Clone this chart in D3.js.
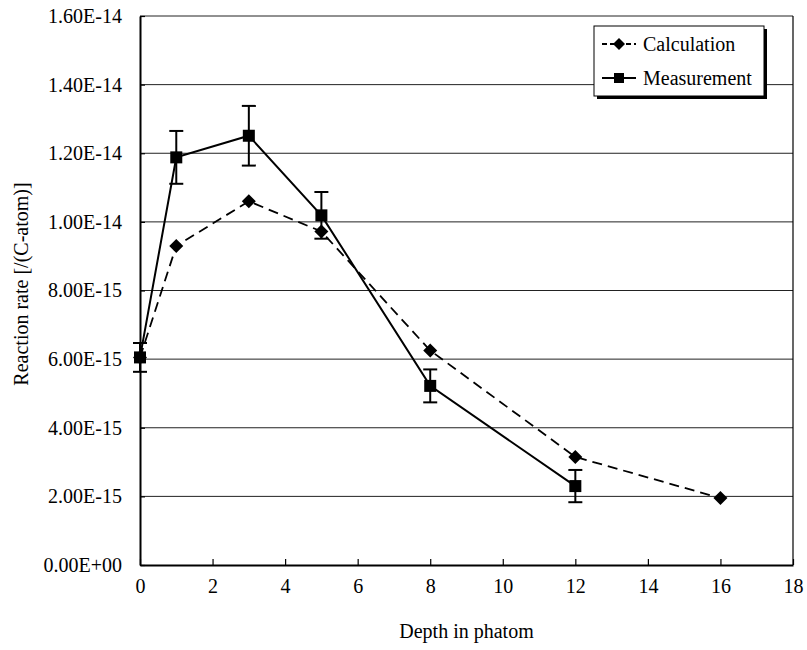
<!DOCTYPE html>
<html>
<head>
<meta charset="utf-8">
<script src="https://cdn.jsdelivr.net/npm/d3@7"></script>
<style>
  body { margin: 0; background: #fff; }
  svg text { font-family: "Liberation Serif", Tinos, "Times New Roman", Times, "DejaVu Serif", serif; fill: #000; }
</style>
</head>
<body>
<div id="chart"></div>
<script>
// Data
var calcDepth = [0, 1, 3, 5, 8, 12, 16];
var calcRate = [6.05e-15, 9.3e-15, 1.06e-14, 9.72e-15, 6.25e-15, 3.15e-15, 1.95e-15];

var measDepth = [0, 1, 3, 5, 8, 12];
var measRate = [6.05e-15, 1.188e-14, 1.251e-14, 1.019e-14, 5.22e-15, 2.3e-15];
var measErr = [0.42e-15, 0.77e-15, 0.87e-15, 0.68e-15, 0.48e-15, 0.47e-15];

var xTicks = [0, 2, 4, 6, 8, 10, 12, 14, 16, 18];
var yTicks = [0, 2e-15, 4e-15, 6e-15, 8e-15, 1e-14, 1.2e-14, 1.4e-14, 1.6e-14];
var yTickLabels = ["0.00E+00", "2.00E-15", "4.00E-15", "6.00E-15", "8.00E-15",
  "1.00E-14", "1.20E-14", "1.40E-14", "1.60E-14"];
var seriesNames = ["Calculation", "Measurement"];

var fontStack = '"Liberation Serif", Tinos, "Times New Roman", Times, "DejaVu Serif", serif';

// SVG area
var svgWidth = 807;
var svgHeight = 650;
var margin = { top: 16, right: 14, bottom: 85, left: 140 };
var chartWidth = svgWidth - margin.left - margin.right;
var chartHeight = svgHeight - margin.top - margin.bottom;

var svg = d3.select("#chart")
  .append("svg")
  .attr("width", svgWidth)
  .attr("height", svgHeight);

var chartGroup = svg.append("g")
  .attr("transform", `translate(${margin.left}, ${margin.top})`);

// Scales
var xScale = d3.scaleLinear().domain([0, 18]).range([0, chartWidth]);
var yScale = d3.scaleLinear().domain([0, 1.6e-14]).range([chartHeight, 0]);

// Gridlines
chartGroup.selectAll(".grid")
  .data(yTicks.slice(1))
  .enter()
  .append("line")
  .attr("x1", 0)
  .attr("x2", chartWidth)
  .attr("y1", d => yScale(d))
  .attr("y2", d => yScale(d))
  .attr("stroke", "#222")
  .attr("stroke-width", 1);

// Plot frame (right side)
chartGroup.append("line")
  .attr("x1", chartWidth).attr("x2", chartWidth)
  .attr("y1", 0).attr("y2", chartHeight)
  .attr("stroke", "#000").attr("stroke-width", 1.2);

// Axes
var bottomAxis = d3.axisBottom(xScale).tickValues(xTicks).tickSizeInner(-6).tickSizeOuter(0).tickPadding(14);
var leftAxis = d3.axisLeft(yScale).tickValues(yTicks).tickSizeInner(-5).tickSizeOuter(0).tickPadding(18)
  .tickFormat((d, i) => yTickLabels[i]);

var xAxisG = chartGroup.append("g")
  .attr("transform", `translate(0, ${chartHeight})`)
  .call(bottomAxis);
var yAxisG = chartGroup.append("g").call(leftAxis);

[xAxisG, yAxisG].forEach(function(g) {
  g.attr("font-family", null).attr("font-size", null);
  g.select(".domain").attr("stroke", "#000").attr("stroke-width", 2);
  g.selectAll(".tick line").attr("stroke", "#000").attr("stroke-width", 1.2);
  g.selectAll(".tick text")
    .style("font-family", fontStack)
    .style("font-size", "20px")
    .attr("fill", "#000");
});

// Axis titles
svg.append("text")
  .attr("x", margin.left + chartWidth / 2)
  .attr("y", 638)
  .attr("text-anchor", "middle")
  .style("font-family", fontStack)
  .style("font-size", "20px")
  .text("Depth in phatom");

svg.append("text")
  .attr("transform", "translate(28, 284) rotate(-90)")
  .attr("text-anchor", "middle")
  .style("font-family", fontStack)
  .style("font-size", "20px")
  .text("Reaction rate [/(C-atom)]");

// Calculation series (dashed, diamonds)
var calcData = calcDepth.map((d, i) => ({ x: d, y: calcRate[i] }));
var measData = measDepth.map((d, i) => ({ x: d, y: measRate[i], e: measErr[i] }));

var line = d3.line().x(d => xScale(d.x)).y(d => yScale(d.y));

chartGroup.append("path")
  .datum(calcData)
  .attr("d", line)
  .attr("fill", "none")
  .attr("stroke", "#000")
  .attr("stroke-width", 1.8)
  .attr("stroke-dasharray", "10,6");

// Measurement series (solid, squares, error bars)
chartGroup.append("path")
  .datum(measData)
  .attr("d", line)
  .attr("fill", "none")
  .attr("stroke", "#000")
  .attr("stroke-width", 2);

chartGroup.selectAll(".calc")
  .data(calcData)
  .enter()
  .append("path")
  .attr("d", "M0,-7L7,0L0,7L-7,0Z")
  .attr("transform", d => `translate(${xScale(d.x)}, ${yScale(d.y)})`)
  .attr("fill", "#000");

var errG = chartGroup.selectAll(".err")
  .data(measData)
  .enter()
  .append("g");

errG.append("line")
  .attr("x1", d => xScale(d.x)).attr("x2", d => xScale(d.x))
  .attr("y1", d => yScale(d.y + d.e)).attr("y2", d => yScale(d.y - d.e))
  .attr("stroke", "#000").attr("stroke-width", 2);
errG.append("line")
  .attr("x1", d => xScale(d.x) - 7).attr("x2", d => xScale(d.x) + 7)
  .attr("y1", d => yScale(d.y + d.e)).attr("y2", d => yScale(d.y + d.e))
  .attr("stroke", "#000").attr("stroke-width", 2);
errG.append("line")
  .attr("x1", d => xScale(d.x) - 7).attr("x2", d => xScale(d.x) + 7)
  .attr("y1", d => yScale(d.y - d.e)).attr("y2", d => yScale(d.y - d.e))
  .attr("stroke", "#000").attr("stroke-width", 2);

chartGroup.selectAll(".meas")
  .data(measData)
  .enter()
  .append("rect")
  .attr("x", d => xScale(d.x) - 6)
  .attr("y", d => yScale(d.y) - 6)
  .attr("width", 12)
  .attr("height", 12)
  .attr("fill", "#000");

// Legend
var legend = svg.append("g").attr("transform", "translate(594, 26)");
legend.append("rect")
  .attr("x", 3).attr("y", 3).attr("width", 170).attr("height", 70)
  .attr("fill", "#000");
legend.append("rect")
  .attr("x", 0).attr("y", 0).attr("width", 170).attr("height", 70)
  .attr("fill", "#fff").attr("stroke", "#000").attr("stroke-width", 1);

var legendRows = legend.selectAll(".row")
  .data(seriesNames)
  .enter()
  .append("g")
  .attr("transform", (d, i) => `translate(0, ${18 + i * 34})`);

legendRows.append("line")
  .attr("x1", 8).attr("x2", 42).attr("y1", 0).attr("y2", 0)
  .attr("stroke", "#000").attr("stroke-width", 1.8)
  .attr("stroke-dasharray", (d, i) => i === 0 ? "5,3" : null);

legendRows.append("path")
  .attr("d", (d, i) => i === 0 ? "M0,-6L6,0L0,6L-6,0Z" : "M-5,-5H5V5H-5Z")
  .attr("transform", "translate(25, 0)")
  .attr("fill", "#000");

legendRows.append("text")
  .attr("x", 49)
  .attr("y", 7)
  .style("font-family", fontStack)
  .style("font-size", "20px")
  .text(d => d);
</script>
</body>
</html>
